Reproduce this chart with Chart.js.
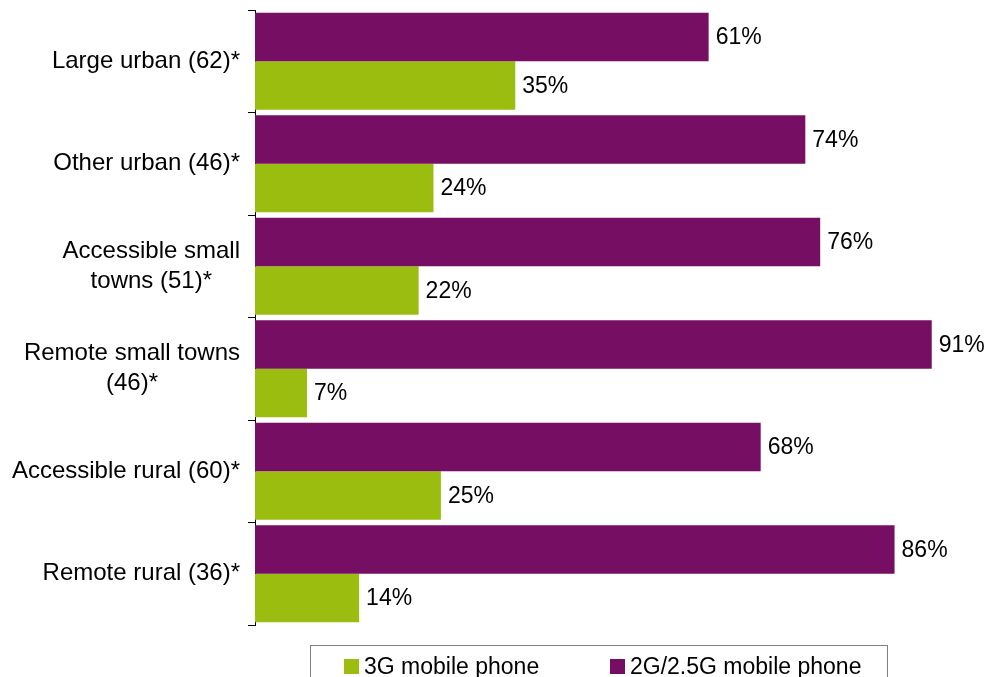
<!DOCTYPE html>
<html>
<head>
<meta charset="utf-8">
<script src="https://cdn.jsdelivr.net/npm/chart.js@4.4.0/dist/chart.umd.min.js"></script>
<style>
  body { margin: 0; background: #fff; }
  #wrap { position: relative; width: 989px; height: 677px; overflow: hidden; }
  #legende {
    position: absolute; left: 310px; top: 645px; width: 578px; height: 50px;
    border: 1px solid #808080; box-sizing: border-box;
    font-family: 'Liberation Sans', Arial, sans-serif; font-size: 23px; color: #000;
  }
  .leg-item { position: absolute; top: 7px; display: flex; align-items: center; white-space: nowrap; }
  .leg-carre { width: 15px; height: 15px; margin-right: 5px; }
</style>
</head>
<body>
<div id="wrap">
  <canvas id="graphique"></canvas>
  <div id="legende"></div>
</div>
<script>
// Catégories et valeurs (en %)
const categories = [
  ['Large urban (62)*'],
  ['Other urban (46)*'],
  ['Accessible small', 'towns (51)*'],
  ['Remote small towns', '(46)*'],
  ['Accessible rural (60)*'],
  ['Remote rural (36)*']
];
const valeurs2G = [61, 74, 76, 91, 68, 86];
const valeurs3G = [35, 24, 22, 7, 25, 14];

const VIOLET = '#760f64';
const VERT = '#9bbd0f';
const POLICE = "'Liberation Sans', Arial, sans-serif";

// Libellés de l'axe : bloc aligné à droite, lignes centrées entre elles
const libellesAxe = {
  id: 'libellesAxe',
  afterDraw(chart) {
    const ctx = chart.ctx;
    const y = chart.scales.y;
    const droite = 240;
    const interligne = 30;
    ctx.save();
    ctx.font = '24px ' + POLICE;
    ctx.fillStyle = '#000';
    ctx.textBaseline = 'middle';
    ctx.textAlign = 'center';
    categories.forEach((lignes, i) => {
      const yc = y.getPixelForValue(i);
      const largeur = Math.max(...lignes.map(l => ctx.measureText(l).width));
      const xc = droite - largeur / 2;
      const debut = yc - (lignes.length - 1) * interligne / 2;
      lignes.forEach((l, k) => ctx.fillText(l, xc, debut + k * interligne));
    });
    ctx.restore();
  }
};

// Valeurs affichées au bout des barres
const valeursBarres = {
  id: 'valeursBarres',
  afterDatasetsDraw(chart) {
    const ctx = chart.ctx;
    ctx.save();
    ctx.font = '23px ' + POLICE;
    ctx.fillStyle = '#000';
    ctx.textBaseline = 'middle';
    ctx.textAlign = 'left';
    chart.data.datasets.forEach((ds, di) => {
      chart.getDatasetMeta(di).data.forEach((barre, i) => {
        ctx.fillText(ds.data[i] + '%', barre.x + 7, barre.y + 1);
      });
    });
    ctx.restore();
  }
};

const chart = new Chart(document.getElementById('graphique'), {
  type: 'bar',
  data: {
    labels: categories,
    datasets: [
      { label: '2G/2.5G mobile phone', data: valeurs2G, backgroundColor: VIOLET },
      { label: '3G mobile phone', data: valeurs3G, backgroundColor: VERT }
    ]
  },
  options: {
    indexAxis: 'y',
    responsive: true,
    maintainAspectRatio: false,
    animation: false,
    layout: { padding: { top: 10, bottom: 52, left: 0, right: 0 } },
    datasets: { bar: { categoryPercentage: 0.944, barPercentage: 1 } },
    plugins: {
      legend: { display: false },
      tooltip: { enabled: false }
    },
    scales: {
      x: { display: false, min: 0, max: 98.7 },
      y: {
        afterFit(scale) { scale.width = 255; },
        ticks: { display: false },
        grid: { offset: true, drawOnChartArea: false, drawTicks: true, tickLength: 7, color: '#000' },
        border: { display: true, color: '#000', width: 1 }
      }
    }
  },
  plugins: [libellesAxe, valeursBarres]
});

// Légende : 3G d'abord, puis 2G/2.5G
const legende = document.getElementById('legende');
const positions = [33, 299];
[1, 0].forEach((di, k) => {
  const ds = chart.data.datasets[di];
  const item = document.createElement('div');
  item.className = 'leg-item';
  item.style.left = positions[k] + 'px';
  item.innerHTML = `<span class="leg-carre" style="background:${ds.backgroundColor}"></span><span>${ds.label}</span>`;
  legende.appendChild(item);
});
</script>
</body>
</html>
